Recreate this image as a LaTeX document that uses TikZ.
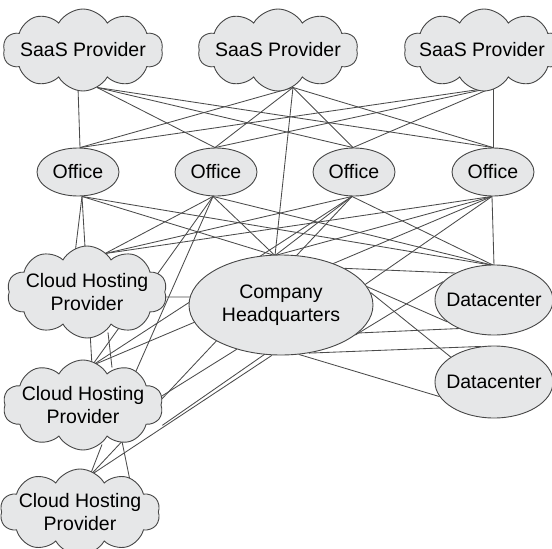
\documentclass[tikz,border=0pt]{standalone}
\usepackage{fontspec}
\setmainfont{Liberation Sans}
\usetikzlibrary{shapes.symbols,shapes.geometric,backgrounds,calc}
\definecolor{nodefill}{RGB}{230,231,232}
\definecolor{edgecol}{RGB}{75,75,75}
\definecolor{bordercol}{RGB}{70,70,70}
\tikzset{
  cloudbox/.style={cloud, cloud puffs=10, cloud puff arc=120, cloud ignores aspect, draw=bordercol, line width=0.9pt, fill=nodefill, inner sep=0pt},
  ellbox/.style={ellipse, draw=bordercol, line width=0.9pt, fill=nodefill, inner sep=0pt},
  txt/.style={font=\fontsize{19.5}{23}\selectfont, align=center, inner sep=0pt},
  link/.style={draw=edgecol, line width=0.85pt}
}
\begin{document}
\begin{tikzpicture}[x=1pt,y=-1pt]
\useasboundingbox (0,0) rectangle (552,549);
% --- nodes ---
\node[cloudbox, minimum width=160pt, minimum height=82pt] (s1) at (83,50) {};
\node[cloudbox, minimum width=160pt, minimum height=82pt] (s2) at (278,50) {};
\node[cloudbox, minimum width=160pt, minimum height=82pt] (s3) at (484,50) {};
\node[txt] (s1l) at (s1) {SaaS Provider};
\node[txt] (s2l) at (s2) {SaaS Provider};
\node[txt] (s3l) at (482,50) {SaaS Provider};

\foreach \n/\x in {o1/78,o2/216,o3/354,o4/493}{
  \node[ellbox, minimum width=82pt, minimum height=48pt] (\n) at (\x,172) {};
  \node[txt] (\n l) at (\n) {Office};
}

\node[cloudbox, minimum width=160pt, minimum height=92pt] (c1) at (87,292) {};
\node[txt] (c1l) at (c1) {Cloud Hosting\\Provider};
\node[cloudbox, minimum width=160pt, minimum height=90pt] (c2) at (83,405) {};
\node[txt] (c2l) at (c2) {Cloud Hosting\\Provider};
\node[cloudbox, minimum width=160pt, minimum height=86pt] (c3) at (80,512) {};
\node[txt] (c3l) at (c3) {Cloud Hosting\\Provider};

\node[ellbox, minimum width=184pt, minimum height=100pt] (hq) at (281,305) {};
\node[txt] (hql) at (hq) {Company\\Headquarters};
\node[ellbox, minimum width=118pt, minimum height=70pt] (d1) at (494,300) {};
\node[txt] (d1l) at (d1) {Datacenter};
\node[ellbox, minimum width=118pt, minimum height=72pt] (d2) at (494,382) {};
\node[txt] (d2l) at (d2) {Datacenter};

% --- ports ---
\coordinate (s1a) at ([xshift=-5pt,yshift=4pt]s1.south);
\coordinate (s1b) at ([xshift=14pt,yshift=4pt]s1.south);
\coordinate (s2p) at ([xshift=15pt,yshift=4pt]s2.south);
\coordinate (s3p) at ([xshift=9pt,yshift=4pt]s3.south);
\coordinate (o1t) at ([xshift=2pt]o1.north);
\coordinate (o2t) at ([xshift=-1pt]o2.north);
\coordinate (o3t) at ([xshift=-1pt]o3.north);
\coordinate (o4t) at (o4.north);
\coordinate (o1b) at ([xshift=4pt]o1.south);
\coordinate (o2b) at ([xshift=-3pt]o2.south);
\coordinate (o3b) at ([xshift=-2pt]o3.south);
\coordinate (o4b) at ([xshift=-1pt]o4.south);
\coordinate (c1t) at ([xshift=-12pt,yshift=-8pt]c1.north);
\coordinate (c1tr) at ([xshift=18pt,yshift=-8pt]c1.north);
\coordinate (c1r) at ([xshift=-6pt,yshift=-5pt]c1.east);
\coordinate (c1bb) at ([xshift=21pt,yshift=6pt]c1.south);
\coordinate (c2t) at ([xshift=9pt,yshift=-6pt]c2.north);
\coordinate (c2tr) at ([xshift=29pt,yshift=-8pt]c2.north);
\coordinate (c2r) at ([xshift=-6pt,yshift=5pt]c2.east);
\coordinate (c2b1) at ([xshift=19pt,yshift=6pt]c2.south);
\coordinate (c2b2) at ([xshift=39pt,yshift=9pt]c2.south);
\coordinate (c3t) at ([xshift=10pt,yshift=-7pt]c3.north);
\coordinate (c3t2) at ([xshift=50pt,yshift=-12pt]c3.north);
\coordinate (hqt) at ([xshift=-6pt,yshift=-1pt]hq.north);
\coordinate (hql) at ([xshift=2pt,yshift=8pt]hq.west);
\coordinate (d1t) at ([yshift=-1pt]d1.north);

% --- links ---
\begin{pgfonlayer}{background}
\draw[link] (s1a) -- (o1t);
\foreach \o in {o2t,o3t,o4t}{ \draw[link] (s1b) -- (\o); }
\foreach \o in {o1t,o2t,o3t,o4t,hqt}{ \draw[link] (s2p) -- (\o); }
\foreach \o in {o1t,o2t,o3t,o4t}{ \draw[link] (s3p) -- (\o); }
% offices to lower tier
\foreach \t in {c1t,c2t,hqt,d1t}{ \draw[link] (o1b) -- (\t); }
\foreach \t in {c1tr,c2t,hqt,d1t}{ \draw[link] (o2b) -- (\t); }
\foreach \t in {c1tr,c2t,hqt,d1t}{ \draw[link] (o3b) -- (\t); }
\foreach \t in {c1tr,c2t,hqt,d1t}{ \draw[link] (o4b) -- (\t); }
\draw[link] (o2b) -- ($(o2b)!0.74!(c3t)$);
\draw[link] (o3b) -- ($(o3b)!0.78!(c3t)$);
\draw[link] (o4b) -- ($(o4b)!0.82!(c3t)$);
% headquarters
\draw[link] (hql) -- (c1r);
\draw[link] (hq.-135) -- (c2r);
\draw[link] (hq.-100) -- (c3t);
\draw[link] (hq.30) -- (d1.145);
\draw[link] (hq.-20) -- (d1.-141);
\draw[link] (hq.12) -- (d1.-155);
\draw[link] (hq.-22) -- (d1.160);
\draw[link] (hq.8) -- (d2.150);
\draw[link] (hq.-60) -- (d2.110);
\draw[link] (hq.-70) -- (d2.-165);
% cloud hosting chain
\draw[link] (c1bb) -- (c2tr);
\draw[link] (c2b1) -- (c3t);
\draw[link] (c2b2) -- (c3t);
\draw[link] (c2b2) -- (c3t2);
\end{pgfonlayer}
\end{tikzpicture}
\end{document}
